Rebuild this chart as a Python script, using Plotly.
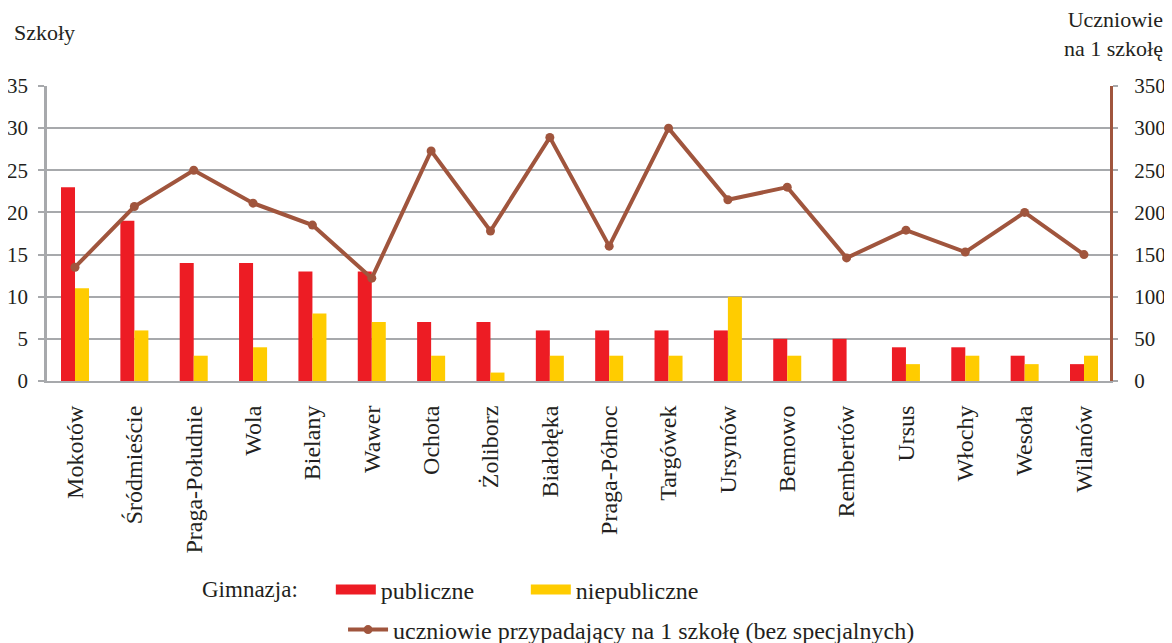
import plotly.graph_objects as go

districts = ["Mokotów", "Śródmieście", "Praga-Południe", "Wola", "Bielany", "Wawer",
             "Ochota", "Żoliborz", "Białołęka", "Praga-Północ", "Targówek", "Ursynów",
             "Bemowo", "Rembertów", "Ursus", "Włochy", "Wesoła", "Wilanów"]
publiczne = [23, 19, 14, 14, 13, 13, 7, 7, 6, 6, 6, 6, 5, 5, 4, 4, 3, 2]
niepubliczne = [11, 6, 3, 4, 8, 7, 3, 1, 3, 3, 3, 10, 3, 0, 2, 3, 2, 3]
uczniowie = [135, 207, 250, 211, 185, 122, 273, 178, 289, 160, 300, 215,
             230, 146, 179, 153, 200, 150]

FONT = "Liberation Serif, Times New Roman, serif"
RED = "#ED1C24"
YEL = "#FFCC00"
BROWN = "#A0553D"
GRID = "#A7A9AC"
TXT = "#231F20"

fig = go.Figure()
fig.add_trace(go.Bar(x=districts, y=publiczne, name="publiczne", marker_color=RED,
                     marker_line_width=0, showlegend=False))
fig.add_trace(go.Bar(x=districts, y=niepubliczne, name="niepubliczne", marker_color=YEL,
                     marker_line_width=0, showlegend=False))
fig.add_trace(go.Scatter(x=districts, y=uczniowie, yaxis="y2", mode="lines+markers",
                         name="uczniowie przypadający na 1 szkołę (bez specjalnych)",
                         line=dict(color=BROWN, width=4),
                         marker=dict(color=BROWN, size=9), legend="legend2"))
# legend-only entries for the bar series (wide rectangular keys)
for nm, col in (("publiczne", RED), ("niepubliczne", YEL)):
    fig.add_trace(go.Scatter(x=[districts[0]], y=[None], mode="lines", name=nm,
                             line=dict(color=col, width=14), legend="legend"))

fig.update_layout(
    width=1164, height=635,
    margin=dict(l=39, r=62, t=78, b=262, autoexpand=False),
    paper_bgcolor="white", plot_bgcolor="white",
    font=dict(family=FONT, size=21, color=TXT),
    barmode="group", bargap=0.528, bargroupgap=0,
    xaxis=dict(tickangle=-90, showgrid=False, showline=True, linecolor=GRID, linewidth=2,
               ticks="", tickfont=dict(size=24), automargin=False, ticklabelstandoff=13,
               range=[-0.472, len(districts) - 0.562]),
    yaxis=dict(range=[0, 35], dtick=5, showgrid=True, gridcolor=GRID, gridwidth=2,
               showline=True, linecolor=GRID, linewidth=2.5, ticks="outside",
               ticklen=6, tickcolor=GRID, tickwidth=2, zeroline=False, automargin=False,
               ticklabelstandoff=6),
    yaxis2=dict(range=[0, 350], dtick=50, overlaying="y", side="right", showgrid=False,
                showline=True, linecolor=BROWN, linewidth=3, ticks="outside",
                ticklen=5, tickcolor=GRID, tickwidth=2, zeroline=False, automargin=False,
                ticklabelstandoff=12),
    legend=dict(orientation="h", x=0.267, y=-0.708, xanchor="left", yanchor="middle",
                font=dict(size=24), itemwidth=40, entrywidth=140),
    legend2=dict(orientation="h", x=0.2785, y=-0.844, xanchor="left", yanchor="middle",
                 font=dict(size=24), itemwidth=40),
    showlegend=True,
    annotations=[
        dict(text="Szkoły", xref="paper", yref="paper", x=-0.033, y=1.18,
             xanchor="left", yanchor="middle", showarrow=False, font=dict(size=22)),
        dict(text="Uczniowie<br>na 1 szkołę", xref="paper", yref="paper", x=1.0515, y=1.176,
             xanchor="right", yanchor="middle", align="right", showarrow=False,
             font=dict(size=22)),
        dict(text="Gimnazja:", xref="paper", yref="paper", x=0.144, y=-0.708,
             xanchor="left", yanchor="middle", showarrow=False, font=dict(size=23)),
    ],
)

fig.write_html("out.html")
